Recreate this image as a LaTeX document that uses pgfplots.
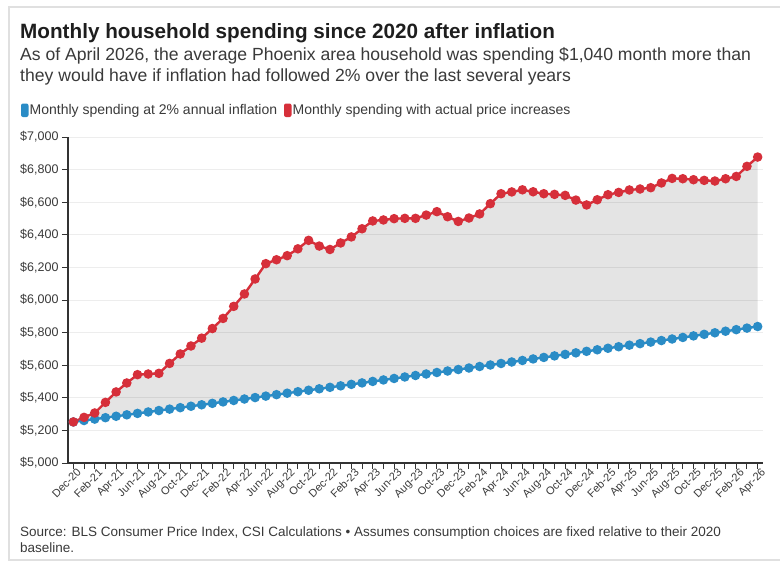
\documentclass[border=0pt]{standalone}
\usepackage{fontspec}
\setmainfont{Liberation Sans}
\usepackage{pgfplots}
\usepackage{pgfplotstable}
\pgfplotsset{compat=1.18}
\definecolor{redl}{HTML}{D62F3A}
\definecolor{bluel}{HTML}{2A8CC6}
\definecolor{txt}{HTML}{1E1E1E}
\definecolor{txtb}{HTML}{3A3A3A}

\pgfplotstableread{
t v
0 5252
1 5280
2 5307
3 5372
4 5436
5 5491
6 5542
7 5546
8 5550
9 5611
10 5669
11 5718
12 5766
13 5825
14 5887
15 5961
16 6037
17 6129
18 6223
19 6247
20 6272
21 6314
22 6366
23 6331
24 6310
25 6350
26 6387
27 6437
28 6485
29 6491
30 6499
31 6501
32 6501
33 6521
34 6542
35 6511
36 6482
37 6503
38 6528
39 6591
40 6652
41 6663
42 6676
43 6664
44 6652
45 6648
46 6642
47 6613
48 6583
49 6615
50 6646
51 6660
52 6675
53 6681
54 6689
55 6718
56 6746
57 6744
58 6738
59 6734
60 6730
61 6744
62 6758
63 6820
64 6877
}\redtab

\pgfplotstableread{
t v
0 5252
1 5260.7
2 5269.4
3 5278.1
4 5286.8
5 5295.6
6 5304.3
7 5313.1
8 5321.9
9 5330.7
10 5339.5
11 5348.3
12 5357.1
13 5366.0
14 5374.8
15 5383.7
16 5392.6
17 5401.5
18 5410.4
19 5419.4
20 5428.3
21 5437.3
22 5446.3
23 5455.3
24 5464.3
25 5473.3
26 5482.4
27 5491.4
28 5500.5
29 5509.6
30 5518.7
31 5527.8
32 5537.0
33 5546.1
34 5555.3
35 5564.4
36 5573.6
37 5582.8
38 5592.1
39 5601.3
40 5610.6
41 5619.8
42 5629.1
43 5638.4
44 5647.7
45 5657.1
46 5666.4
47 5675.8
48 5685.2
49 5694.6
50 5704.0
51 5713.4
52 5722.9
53 5732.3
54 5741.8
55 5751.3
56 5760.8
57 5770.3
58 5779.8
59 5789.4
60 5798.9
61 5808.5
62 5818.1
63 5827.7
64 5837.4
}\bluetab

% gap area: red forward, then blue backward
\pgfplotstableread{
t v
0 5252
1 5280
2 5307
3 5372
4 5436
5 5491
6 5542
7 5546
8 5550
9 5611
10 5669
11 5718
12 5766
13 5825
14 5887
15 5961
16 6037
17 6129
18 6223
19 6247
20 6272
21 6314
22 6366
23 6331
24 6310
25 6350
26 6387
27 6437
28 6485
29 6491
30 6499
31 6501
32 6501
33 6521
34 6542
35 6511
36 6482
37 6503
38 6528
39 6591
40 6652
41 6663
42 6676
43 6664
44 6652
45 6648
46 6642
47 6613
48 6583
49 6615
50 6646
51 6660
52 6675
53 6681
54 6689
55 6718
56 6746
57 6744
58 6738
59 6734
60 6730
61 6744
62 6758
63 6820
64 6877
64 5837.4
63 5827.7
62 5818.1
61 5808.5
60 5798.9
59 5789.4
58 5779.8
57 5770.3
56 5760.8
55 5751.3
54 5741.8
53 5732.3
52 5722.9
51 5713.4
50 5704.0
49 5694.6
48 5685.2
47 5675.8
46 5666.4
45 5657.1
44 5647.7
43 5638.4
42 5629.1
41 5619.8
40 5610.6
39 5601.3
38 5592.1
37 5582.8
36 5573.6
35 5564.4
34 5555.3
33 5546.1
32 5537.0
31 5527.8
30 5518.7
29 5509.6
28 5500.5
27 5491.4
26 5482.4
25 5473.3
24 5464.3
23 5455.3
22 5446.3
21 5437.3
20 5428.3
19 5419.4
18 5410.4
17 5401.5
16 5392.6
15 5383.7
14 5374.8
13 5366.0
12 5357.1
11 5348.3
10 5339.5
9 5330.7
8 5321.9
7 5313.1
6 5304.3
5 5295.6
4 5286.8
3 5278.1
2 5269.4
1 5260.7
0 5252
}\gaptab

\begin{document}
\begin{tikzpicture}
\fill[white] (0pt,0pt) rectangle (780pt,-563pt);
\draw[black!12, line width=2pt] (780pt,-560pt) -- (9pt,-560pt) -- (9pt,-7pt) -- (780pt,-7pt);

\node[anchor=base west, inner sep=0pt, text=txt, font=\bfseries\fontsize{20.7}{24}\selectfont] at (20pt,-38pt) {Monthly household spending since 2020 after inflation};
\node[anchor=base west, inner sep=0pt, text=txtb, font=\fontsize{17.6}{20}\selectfont] at (20pt,-60pt) {As of April 2026, the average Phoenix area household was spending \$1,040 month more than};
\node[anchor=base west, inner sep=0pt, text=txtb, font=\fontsize{17.6}{20}\selectfont] at (20pt,-81pt) {they would have if inflation had followed 2\% over the last several years};

\fill[bluel, rounded corners=2pt] (21pt,-103.5pt) rectangle (28.5pt,-117pt);
\node[anchor=base west, inner sep=0pt, text=txtb, font=\fontsize{14}{16}\selectfont] at (29.5pt,-114.5pt) {Monthly spending at 2\% annual inflation};
\fill[redl, rounded corners=2pt] (284pt,-103.5pt) rectangle (291.5pt,-117pt);
\node[anchor=base west, inner sep=0pt, text=txtb, font=\fontsize{14}{16}\selectfont] at (292.5pt,-114.5pt) {Monthly spending with actual price increases};

\node[anchor=base west, inner sep=0pt, text=txtb, font=\fontsize{13.5}{15}\selectfont] at (20pt,-536pt) {Source: BLS Consumer Price Index, CSI Calculations \textbullet{} Assumes consumption choices are fixed relative to their 2020};
\node[anchor=base west, inner sep=0pt, text=txtb, font=\fontsize{13.5}{15}\selectfont] at (20pt,-552pt) {baseline.};

\begin{axis}[
  at={(68pt,-463pt)}, anchor=south west,
  width=695pt, height=326pt, scale only axis,
  xmin=-0.5, xmax=64.5, ymin=5000, ymax=7000,
  axis lines=left,
  axis line style={-, draw=black!80, line width=1.2pt},
  ytick={5000,5200,...,7000},
  yticklabels={{\$5,000},{\$5,200},{\$5,400},{\$5,600},{\$5,800},{\$6,000},{\$6,200},{\$6,400},{\$6,600},{\$6,800},{\$7,000}},
  yticklabel style={font=\fontsize{12.5}{14}\selectfont, text=txtb},
  xtick={0,2,...,64},
  xticklabels={Dec-20,Feb-21,Apr-21,Jun-21,Aug-21,Oct-21,Dec-21,Feb-22,Apr-22,Jun-22,Aug-22,Oct-22,Dec-22,Feb-23,Apr-23,Jun-23,Aug-23,Oct-23,Dec-23,Feb-24,Apr-24,Jun-24,Aug-24,Oct-24,Dec-24,Feb-25,Apr-25,Jun-25,Aug-25,Oct-25,Dec-25,Feb-26,Apr-26},
  xticklabel style={font=\fontsize{11}{12}\selectfont, text=txtb, rotate=45, anchor=north east, inner sep=1pt, xshift=4pt},
  minor xtick={1,3,...,63},
  tick align=outside,
  major tick length=6pt, minor tick length=6pt,
  tick style={draw=black!80, line width=1pt},
  minor tick style={draw=black!80, line width=1pt},
  ymajorgrids,
  grid style={draw=black!7, line width=1pt},
  clip=false,
]
\addplot[fill=black, fill opacity=0.105, draw=none, forget plot] table[x=t,y=v] {\gaptab} -- cycle;
\addplot[bluel, line width=2.4pt, mark=*, mark size=3.5pt, mark options={solid, fill=bluel, draw=none}] table[x=t,y=v] {\bluetab};
\addplot[redl, line width=2.4pt, mark=*, mark size=3.5pt, mark options={solid, fill=redl, draw=none}] table[x=t,y=v] {\redtab};
\end{axis}
\pgfresetboundingbox
\path[use as bounding box] (0pt,0pt) rectangle (780pt,-563pt);
\end{tikzpicture}
\end{document}
